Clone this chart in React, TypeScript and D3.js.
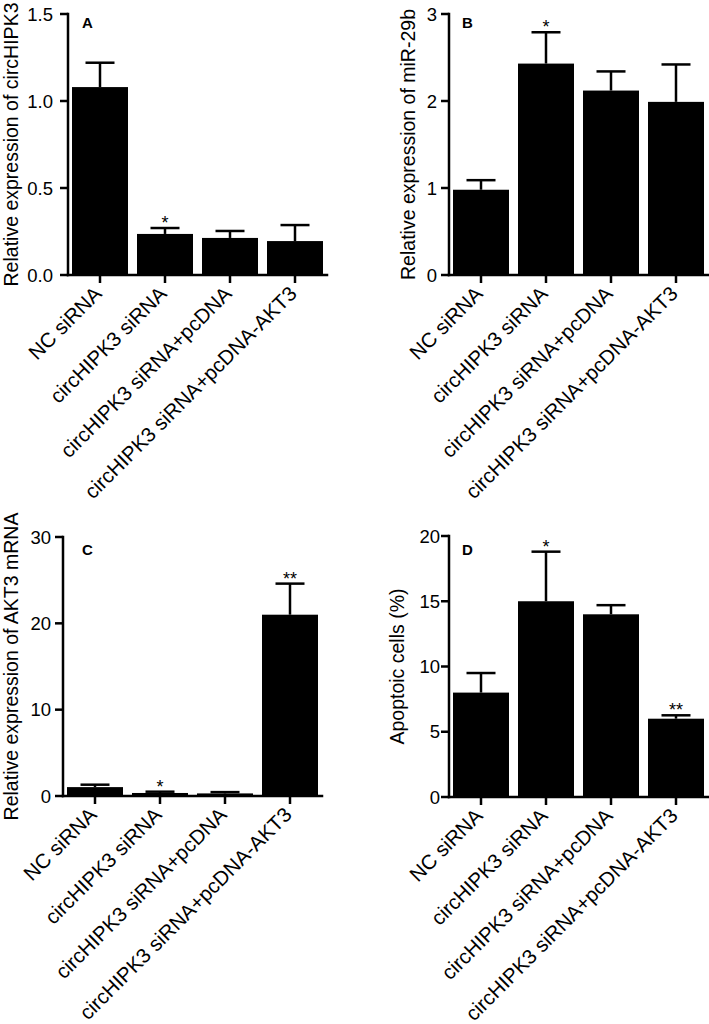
import React from "react";
import * as d3 from "d3";

const categories = [
  "NC siRNA",
  "circHIPK3 siRNA",
  "circHIPK3 siRNA+pcDNA",
  "circHIPK3 siRNA+pcDNA-AKT3",
];

// Panel A: Relative expression of circHIPK3
const valuesA = [1.08, 0.236, 0.213, 0.195];
const errorsA = [0.14, 0.034, 0.04, 0.092];
const starsA = ["", "*", "", ""];
const ticksA = [0, 0.5, 1.0, 1.5];

// Panel B: Relative expression of miR-29b
const valuesB = [0.98, 2.43, 2.12, 1.99];
const errorsB = [0.11, 0.36, 0.22, 0.43];
const starsB = ["", "*", "", ""];
const ticksB = [0, 1, 2, 3];

// Panel C: Relative expression of AKT3 mRNA
const valuesC = [1.03, 0.35, 0.3, 21.0];
const errorsC = [0.28, 0.15, 0.15, 3.6];
const starsC = ["", "*", "", "**"];
const ticksC = [0, 10, 20, 30];

// Panel D: Apoptoic cells (%)
const valuesD = [8.0, 15.0, 14.0, 6.0];
const errorsD = [1.5, 3.8, 0.7, 0.26];
const starsD = ["", "*", "", "**"];
const ticksD = [0, 5, 10, 15, 20];

const FONT = "'Liberation Sans', Arial, Helvetica, sans-serif";

type PanelProps = {
  letter: string;
  yLabel: string;
  values: number[];
  errors: number[];
  stars: string[];
  ticks: number[];
  fmt: (v: number) => string;
  axisX: number;
  zeroY: number;
  topY: number;
  labelX: number;
  tickGap: number;
  letterX: number;
  letterY: number;
};

function Panel(p: PanelProps) {
  const yMax = p.ticks[p.ticks.length - 1];
  const y = d3.scaleLinear().domain([0, yMax]).range([p.zeroY, p.topY]);
  const axisLen = 259;
  const x = d3
    .scaleBand<string>()
    .domain(categories)
    .range([p.axisX, p.axisX + axisLen])
    .paddingInner(9 / 65)
    .paddingOuter(4 / 65);
  const bw = x.bandwidth();
  const capHalf = 14.5;
  const sw = 2.5;
  const midY = (p.zeroY + p.topY) / 2;
  return (
    <g>
      {categories.map((c, i) => {
        const x0 = x(c)!;
        const yt = y(p.values[i]);
        return (
          <rect key={"b" + i} x={x0} y={yt} width={bw} height={p.zeroY - yt} fill="#000" />
        );
      })}
      {categories.map((c, i) => {
        const cx = x(c)! + bw / 2;
        const yt = y(p.values[i]);
        const ye = y(p.values[i] + p.errors[i]);
        return (
          <g key={"e" + i} stroke="#000" strokeWidth={sw}>
            <line x1={cx} x2={cx} y1={yt} y2={ye} />
            <line x1={cx - capHalf} x2={cx + capHalf} y1={ye} y2={ye} />
          </g>
        );
      })}
      {categories.map((c, i) =>
        p.stars[i] ? (
          <text
            key={"s" + i}
            x={x(c)! + bw / 2}
            y={y(p.values[i] + p.errors[i]) + 1}
            textAnchor="middle"
            fontSize={18}
            fontFamily={FONT}
          >
            {p.stars[i]}
          </text>
        ) : null
      )}
      <line x1={p.axisX} x2={p.axisX} y1={p.topY} y2={p.zeroY} stroke="#000" strokeWidth={sw} strokeLinecap="square" />
      {p.ticks.map((t) => (
        <g key={"t" + t}>
          <line x1={p.axisX - 8} x2={p.axisX} y1={y(t)} y2={y(t)} stroke="#000" strokeWidth={sw} />
          <text
            x={p.axisX - 8 - p.tickGap}
            y={y(t)}
            dy="0.36em"
            textAnchor="end"
            fontSize={18.5}
            fontFamily={FONT}
          >
            {p.fmt(t)}
          </text>
        </g>
      ))}
      <line x1={p.axisX} x2={p.axisX + axisLen} y1={p.zeroY} y2={p.zeroY} stroke="#000" strokeWidth={sw} strokeLinecap="square" />
      {categories.map((c, i) => {
        const cx = x(c)! + bw / 2;
        return (
          <g key={"x" + i}>
            <line x1={cx} x2={cx} y1={p.zeroY} y2={p.zeroY + 8} stroke="#000" strokeWidth={sw} />
            <text
              transform={`translate(${cx + 3},${p.zeroY + 20}) rotate(-45)`}
              textAnchor="end"
              fontSize={20.5}
              fontFamily={FONT}
            >
              {c}
            </text>
          </g>
        );
      })}
      <text
        transform={`translate(${p.labelX},${midY}) rotate(-90)`}
        textAnchor="middle"
        fontSize={19.5}
        fontFamily={FONT}
      >
        {p.yLabel}
      </text>
      <text x={p.letterX} y={p.letterY} fontSize={15} fontWeight="bold" fontFamily={FONT}>
        {p.letter}
      </text>
    </g>
  );
}

export default function App() {
  const f1 = d3.format(".1f");
  const f0 = d3.format("d");
  return (
    <svg
      width={709}
      height={1024}
      viewBox="0 0 709 1024"
      style={{ position: "absolute", left: 0, top: 0, background: "#fff" }}
    >
      <rect x={0} y={0} width={709} height={1024} fill="#fff" />
      <Panel
        letter="A"
        yLabel="Relative expression of circHIPK3"
        values={valuesA}
        errors={errorsA}
        stars={starsA}
        ticks={ticksA}
        fmt={f1}
        axisX={68}
        zeroY={275}
        topY={14}
        labelX={18}
        tickGap={7}
        letterX={82}
        letterY={28}
      />
      <Panel
        letter="B"
        yLabel="Relative expression of miR-29b"
        values={valuesB}
        errors={errorsB}
        stars={starsB}
        ticks={ticksB}
        fmt={f0}
        axisX={449}
        zeroY={275}
        topY={14}
        labelX={415}
        tickGap={4}
        letterX={462}
        letterY={28}
      />
      <Panel
        letter="C"
        yLabel="Relative expression of AKT3 mRNA"
        values={valuesC}
        errors={errorsC}
        stars={starsC}
        ticks={ticksC}
        fmt={f0}
        axisX={63}
        zeroY={796}
        topY={537}
        labelX={18}
        tickGap={4}
        letterX={82}
        letterY={555}
      />
      <Panel
        letter="D"
        yLabel="Apoptoic cells (%)"
        values={valuesD}
        errors={errorsD}
        stars={starsD}
        ticks={ticksD}
        fmt={f0}
        axisX={449}
        zeroY={797}
        topY={536}
        labelX={404}
        tickGap={1}
        letterX={462}
        letterY={555}
      />
    </svg>
  );
}
